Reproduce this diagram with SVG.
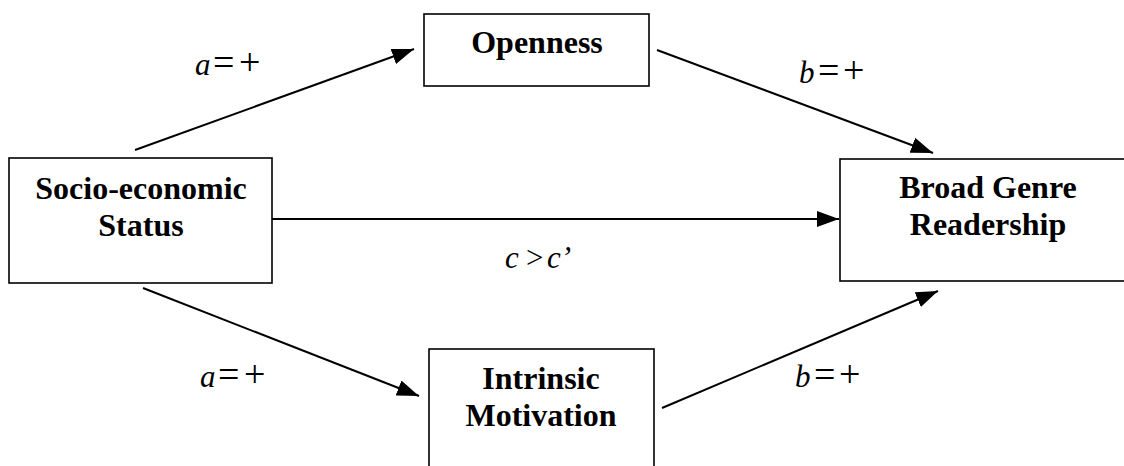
<svg xmlns="http://www.w3.org/2000/svg" width="1124" height="466" viewBox="0 0 1124 466">
<style>
.box{fill:#fff;stroke:#000;stroke-width:1.6}
.nl{font-family:"Liberation Serif",serif;font-weight:bold;font-size:32px;fill:#000;text-anchor:middle}
.lab{font-family:"Liberation Serif",serif;font-size:31px;fill:#000}
.it{font-style:italic}
.sy{font-size:38px}
.edge{stroke:#000;stroke-width:2;fill:none;marker-end:url(#ah)}
</style>
<defs>
<marker id="ah" markerUnits="userSpaceOnUse" markerWidth="22" markerHeight="16" refX="22" refY="8" orient="auto">
<path d="M0,0 L22,8 L0,16 z" fill="#000"/>
</marker>
</defs>
<rect width="1124" height="466" fill="#fff"/>
<g id="connectors">
<line class="edge" x1="135" y1="150" x2="414" y2="49"/>
<line class="edge" x1="657" y1="50" x2="933" y2="153"/>
<line class="edge" x1="272" y1="219" x2="839" y2="219"/>
<line class="edge" x1="143" y1="288" x2="419" y2="396"/>
<line class="edge" x1="662" y1="408" x2="938" y2="291"/>
<text class="lab" x="195" y="75"><tspan class="it">a</tspan><tspan class="sy" x="213">=</tspan><tspan class="sy" x="239">+</tspan></text>
<text class="lab" x="799" y="83"><tspan class="it">b</tspan><tspan class="sy" x="818">=</tspan><tspan class="sy" x="843">+</tspan></text>
<text class="lab" x="505" y="268"><tspan class="it">c</tspan><tspan x="526">&gt;</tspan><tspan x="547" class="it">c’</tspan></text>
<text class="lab" x="200" y="387"><tspan class="it">a</tspan><tspan class="sy" x="218">=</tspan><tspan class="sy" x="244">+</tspan></text>
<text class="lab" x="795" y="387"><tspan class="it">b</tspan><tspan class="sy" x="814">=</tspan><tspan class="sy" x="839">+</tspan></text>
</g>
<g id="openness">
<rect class="box" x="424" y="14" width="225" height="72"/>
<text class="nl" x="537" y="53">Openness</text>
</g>
<g id="ses">
<rect class="box" x="9" y="158" width="263" height="125"/>
<text class="nl" x="141" y="199">Socio-economic</text>
<text class="nl" x="141" y="236">Status</text>
</g>
<g id="readership">
<rect class="box" x="840" y="159" width="300" height="122"/>
<text class="nl" x="988" y="198">Broad Genre</text>
<text class="nl" x="988" y="235">Readership</text>
</g>
<g id="intrinsic">
<rect class="box" x="429" y="349" width="225" height="130"/>
<text class="nl" x="541" y="389">Intrinsic</text>
<text class="nl" x="541" y="426">Motivation</text>
</g>
</svg>
